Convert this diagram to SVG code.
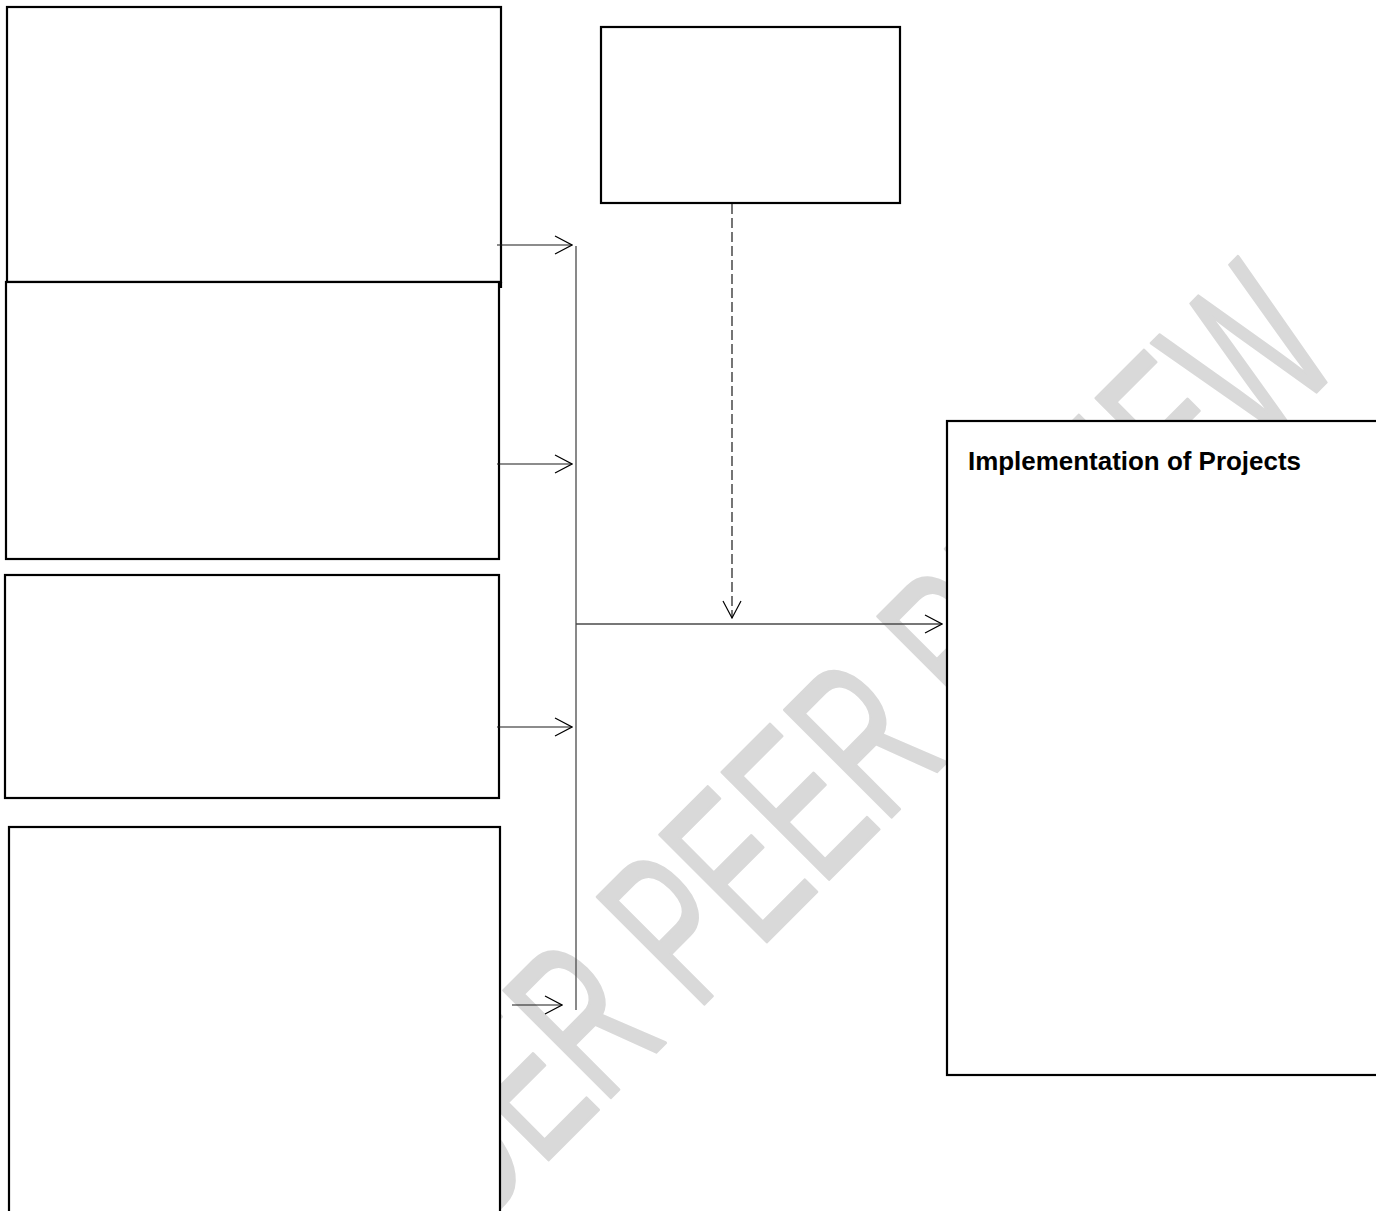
<svg xmlns="http://www.w3.org/2000/svg" width="1376" height="1211" viewBox="0 0 1376 1211">
  <style>
    .box { fill: #ffffff; stroke: #000000; stroke-width: 2.2; }
    .conn { fill: none; stroke: #1a1a1a; stroke-width: 1.2; }
    .bus { fill: none; stroke: #4a4a4a; stroke-width: 1.3; }
    .dash { stroke-dasharray: 10 4; }
    .label { font-family: "Liberation Sans", Arial, sans-serif; font-weight: bold; font-size: 26px; fill: #000000; }
    .wm { font-family: "Liberation Sans", Arial, sans-serif; font-size: 220px; fill: #d9d9d9; stroke: #d9d9d9; stroke-width: 3; stroke-linejoin: round; }
  </style>
  <defs>
    <marker id="open" markerUnits="userSpaceOnUse" viewBox="0 0 20 20" markerWidth="20" markerHeight="20" refX="19" refY="10" orient="auto">
      <path d="M2,1 L19,10 L2,19" fill="none" stroke="#000000" stroke-width="1.2"/>
    </marker>
  </defs>
  <rect x="0" y="0" width="1376" height="1211" fill="#ffffff"/>

  <g id="watermark">
    <text class="wm" transform="rotate(-45)" x="-730" y="1208" textLength="1425" lengthAdjust="spacingAndGlyphs">UNDER PEER REVIEW</text>
  </g>

  <g id="node-a">
    <rect class="box" x="7" y="7" width="494" height="275"/>
    <path d="M501,282 V288" stroke="#000" stroke-width="2.2"/>
  </g>
  <g id="node-b">
    <rect class="box" x="6" y="282" width="493" height="277"/>
  </g>
  <g id="node-c">
    <rect class="box" x="5" y="575" width="494" height="223"/>
  </g>
  <g id="node-d">
    <rect class="box" x="9" y="827" width="491" height="420"/>
  </g>
  <g id="node-e">
    <rect class="box" x="601" y="27" width="299" height="176"/>
  </g>
  <g id="node-f">
    <rect class="box" x="947" y="421" width="450" height="654"/>
    <text class="label" x="968" y="470" textLength="333" lengthAdjust="spacingAndGlyphs">Implementation of Projects</text>
  </g>

  <g id="connectors">
    <path class="bus" d="M576,246 V1010"/>
    <path class="conn" d="M497,245 H572" marker-end="url(#open)"/>
    <path class="conn" d="M497,464 H572" marker-end="url(#open)"/>
    <path class="conn" d="M497,727 H572" marker-end="url(#open)"/>
    <path class="conn" d="M512,1005 H562" marker-end="url(#open)"/>
    <path class="bus" d="M576,624 H942" marker-end="url(#open)"/>
    <path class="conn dash" d="M732,204 V618" marker-end="url(#open)"/>
  </g>
</svg>
